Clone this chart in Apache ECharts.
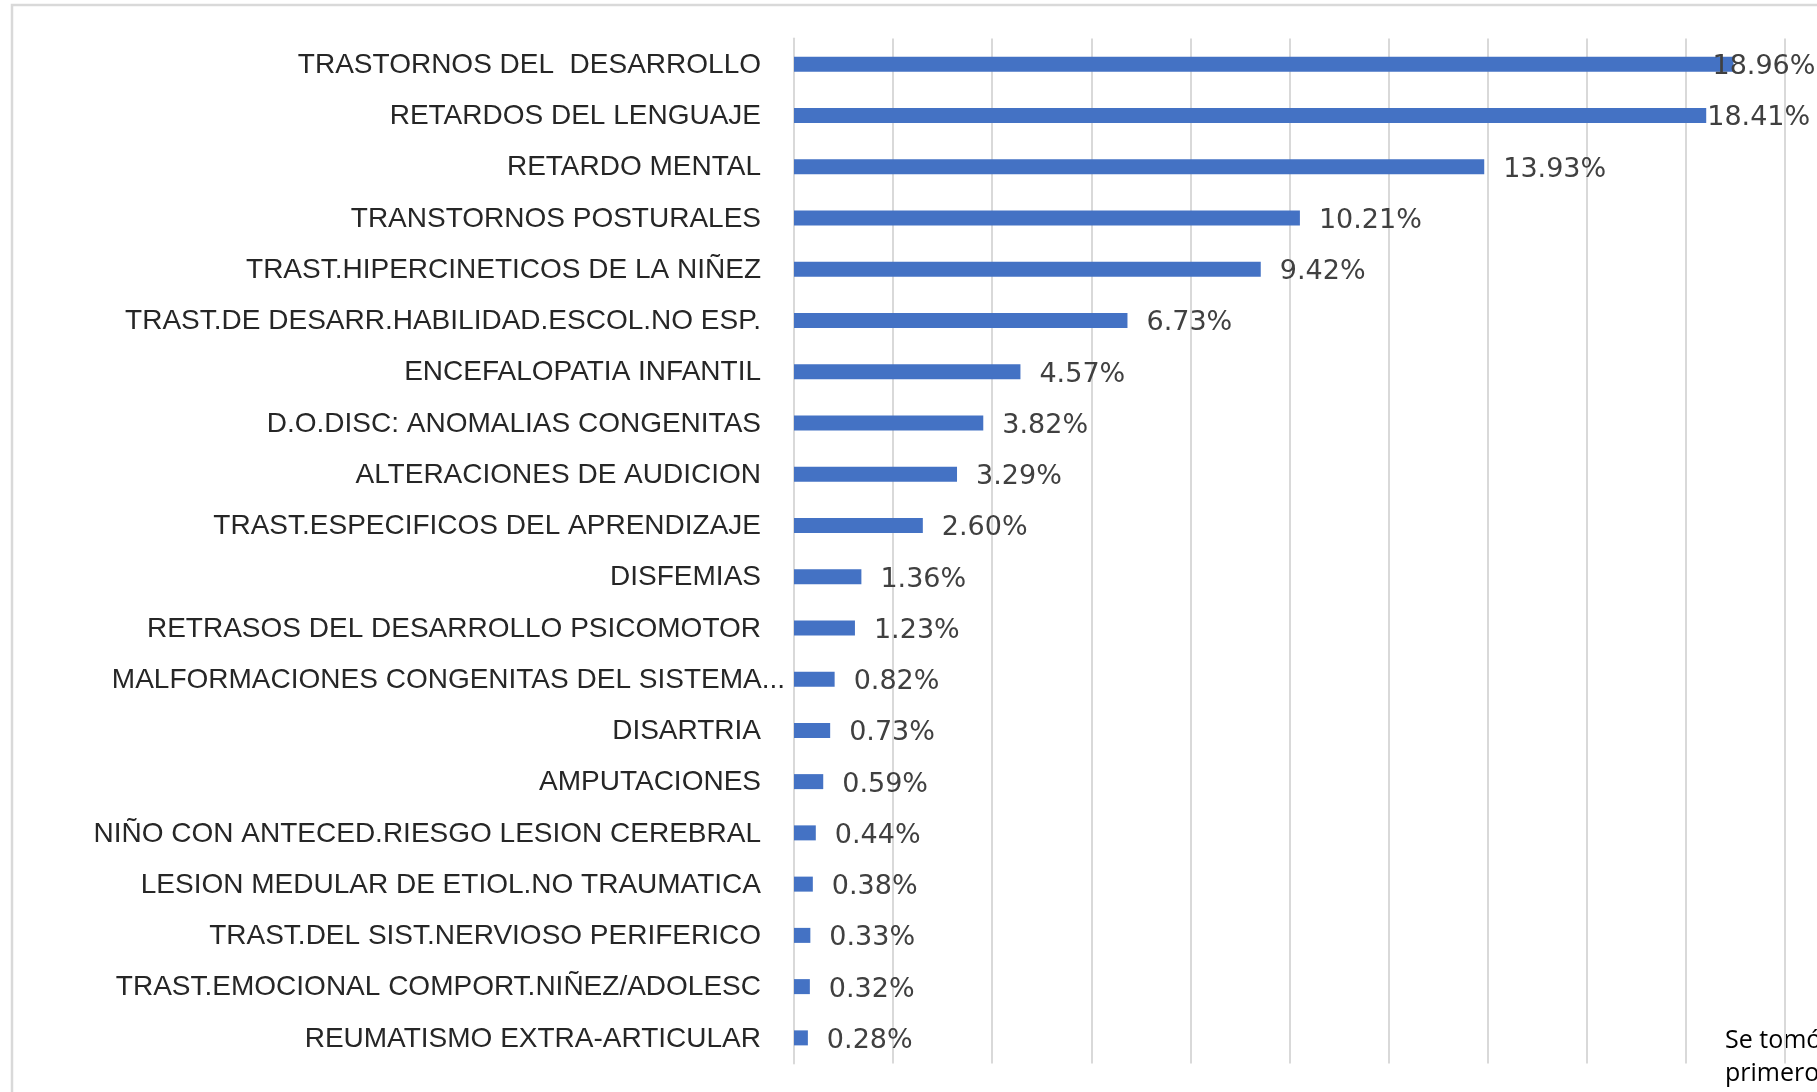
<!DOCTYPE html>
<html>
<head>
<meta charset="utf-8">
<script src="https://cdn.jsdelivr.net/npm/echarts@6/dist/echarts.min.js"></script>
<style>
  html, body { margin: 0; padding: 0; background: #fff; }
  #chart { width: 1817px; height: 1092px; }
</style>
</head>
<body>
<div id="chart"></div>
<script>
// categorias (de arriba hacia abajo)
const categories = [
  "TRASTORNOS DEL  DESARROLLO",
  "RETARDOS DEL LENGUAJE",
  "RETARDO MENTAL",
  "TRANSTORNOS POSTURALES",
  "TRAST.HIPERCINETICOS DE LA NIÑEZ",
  "TRAST.DE DESARR.HABILIDAD.ESCOL.NO ESP.",
  "ENCEFALOPATIA INFANTIL",
  "D.O.DISC: ANOMALIAS CONGENITAS",
  "ALTERACIONES DE AUDICION",
  "TRAST.ESPECIFICOS DEL APRENDIZAJE",
  "DISFEMIAS",
  "RETRASOS DEL DESARROLLO PSICOMOTOR",
  "MALFORMACIONES CONGENITAS DEL SISTEMA...",
  "DISARTRIA",
  "AMPUTACIONES",
  "NIÑO CON ANTECED.RIESGO LESION CEREBRAL",
  "LESION MEDULAR DE ETIOL.NO TRAUMATICA",
  "TRAST.DEL SIST.NERVIOSO PERIFERICO",
  "TRAST.EMOCIONAL COMPORT.NIÑEZ/ADOLESC",
  "REUMATISMO EXTRA-ARTICULAR"
];
// porcentaje de cada categoria
const values = [18.96, 18.41, 13.93, 10.21, 9.42, 6.73, 4.57, 3.82, 3.29, 2.60,
  1.36, 1.23, 0.82, 0.73, 0.59, 0.44, 0.38, 0.33, 0.32, 0.28];
const footnote = ["Se tomó", "primero"];

const chart = echarts.init(document.getElementById("chart"));

// las dos primeras etiquetas se corren hacia adentro, como en Excel
const labelShift = { 0: -40, 1: -18 };
const seriesData = values.map((v, i) => {
  const item = { value: v };
  if (labelShift[i] !== undefined) {
    item.label = { offset: [labelShift[i], 3] };
  }
  return item;
});

const option = {
  animation: false,
  backgroundColor: "#ffffff",
  grid: {
    left: 794,
    right: 32,
    top: 38.5,
    bottom: 28.5,
    containLabel: false
  },
  xAxis: {
    type: "value",
    min: 0,
    max: 20,
    interval: 2,
    axisLine: { show: false },
    axisTick: { show: false },
    axisLabel: { show: false },
    splitLine: {
      show: true,
      lineStyle: { color: "#d9d9d9", width: 2 }
    }
  },
  yAxis: {
    type: "category",
    inverse: true,
    data: categories,
    axisLine: { show: true, lineStyle: { color: "#d9d9d9", width: 2 } },
    axisTick: { show: false },
    axisLabel: {
      margin: 33,
      fontFamily: "Liberation Sans",
      fontSize: 28,
      color: "#262626",
      padding: [2, 0, 0, 0],
      formatter: (val) => val.endsWith("...") ? "{long|" + val + "}" : val,
      rich: {
        long: {
          fontFamily: "Liberation Sans",
          fontSize: 28,
          color: "#262626",
          padding: [0, -24, 0, 0]
        }
      }
    }
  },
  series: [
    {
      type: "bar",
      data: seriesData,
      barWidth: 15,
      itemStyle: { color: "#4472c4" },
      label: {
        show: true,
        position: "right",
        distance: 19,
        offset: [0, 3],
        fontFamily: "DejaVu Sans",
        fontSize: 27,
        color: "#404040",
        formatter: (p) => p.value.toFixed(2) + "%"
      }
    }
  ],
  graphic: [
    {
      type: "polyline",
      shape: { points: [[12, 1092], [12, 5], [1817, 5]] },
      style: { stroke: "#d9d9d9", lineWidth: 2.5, fill: null },
      silent: true
    },
    {
      type: "text",
      left: 1725,
      top: 1024,
      style: {
        text: footnote.join("\n"),
        font: "25px 'Open Sans'",
        lineHeight: 33,
        fill: "#000000"
      }
    }
  ]
};

chart.setOption(option);
</script>
</body>
</html>
